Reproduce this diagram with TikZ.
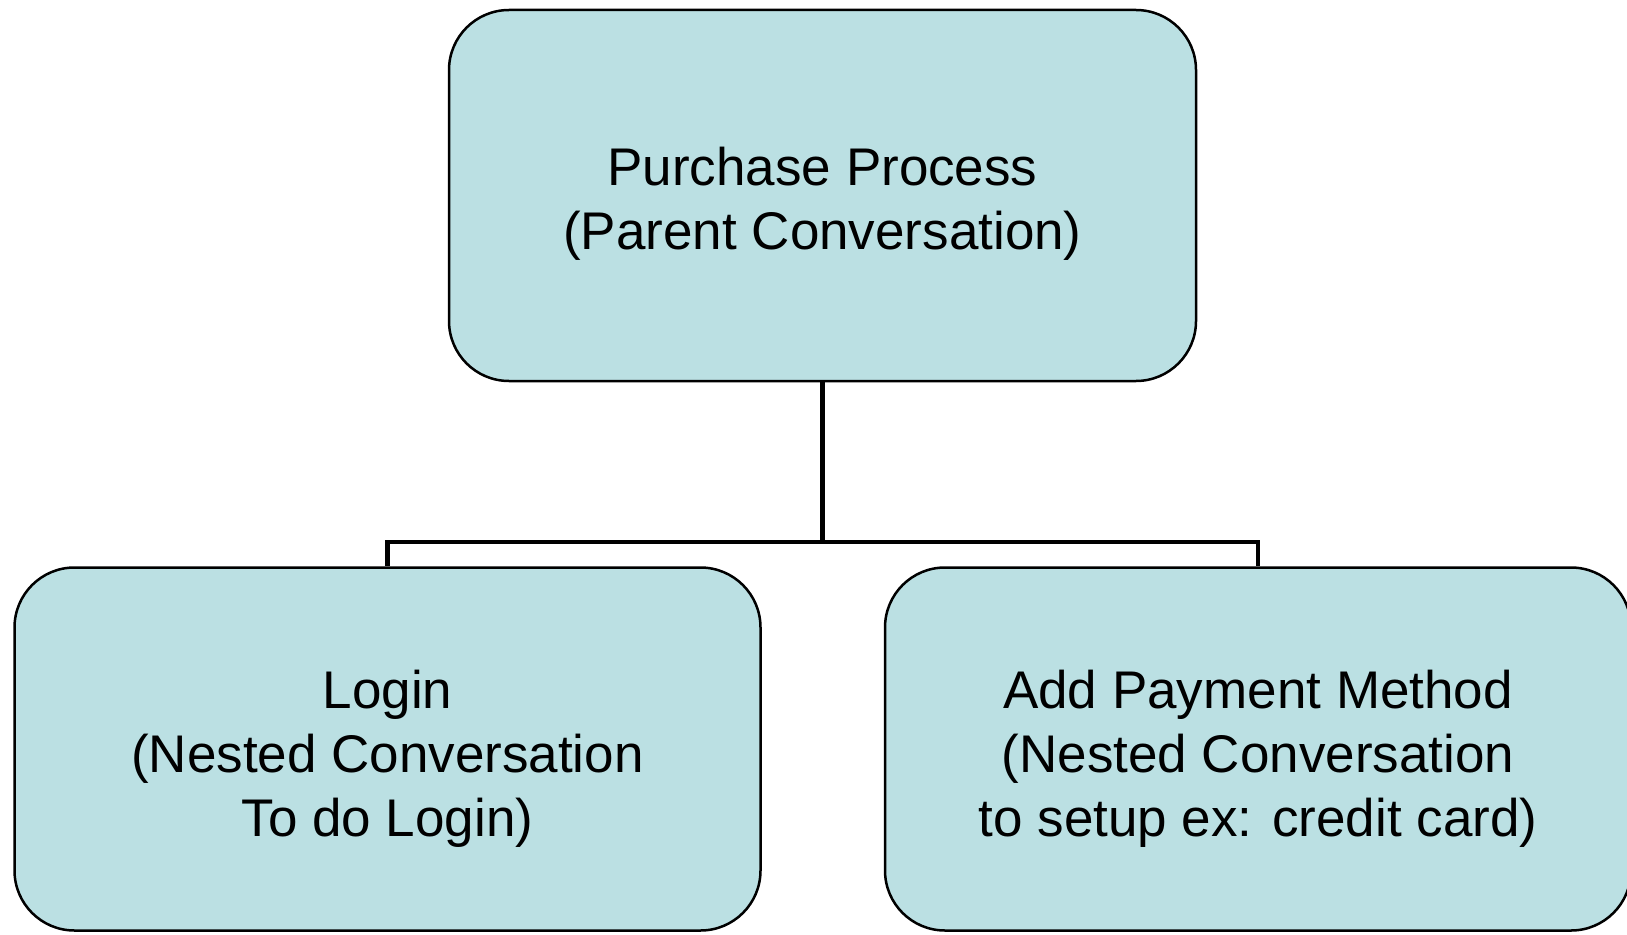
\documentclass[tikz,border=0pt]{standalone}
\usepackage{fontspec}
\setmainfont{Liberation Sans}
\definecolor{boxfill}{HTML}{BBE0E3}
\newcommand{\lowerby}[1]{\rule{0pt}{#1}}
\begin{document}
\begin{tikzpicture}[x=1pt,y=-1pt,
  box/.style={draw=black, line width=2.5pt, fill=boxfill, rounded corners=60pt,
    align=center, inner sep=0pt, font=\fontsize{53}{64}\selectfont},
  conn/.style={draw=black, line width=4.5pt}]
\useasboundingbox (0,0) rectangle (1627,934);
\node[box, minimum width=747pt, minimum height=371pt] (top) at (822.5,195.5)
  {\lowerby{55pt}Purchase Process\\(Parent Conversation)};
\node[box, minimum width=746pt, minimum height=363pt] (left) at (387.5,749)
  {\lowerby{57pt}Login\\(Nested Conversation\\To do Login)};
\node[box, minimum width=746pt, minimum height=363pt] (right) at (1258,749)
  {\lowerby{57pt}Add Payment Method\\(Nested Conversation\\to setup ex: credit card)};
\coordinate (mid) at (822.5,542);
\draw[conn] (top.south) -- (mid);
\draw[conn] (mid) -| (left.north);
\draw[conn] (mid) -| (right.north);
\end{tikzpicture}
\end{document}
